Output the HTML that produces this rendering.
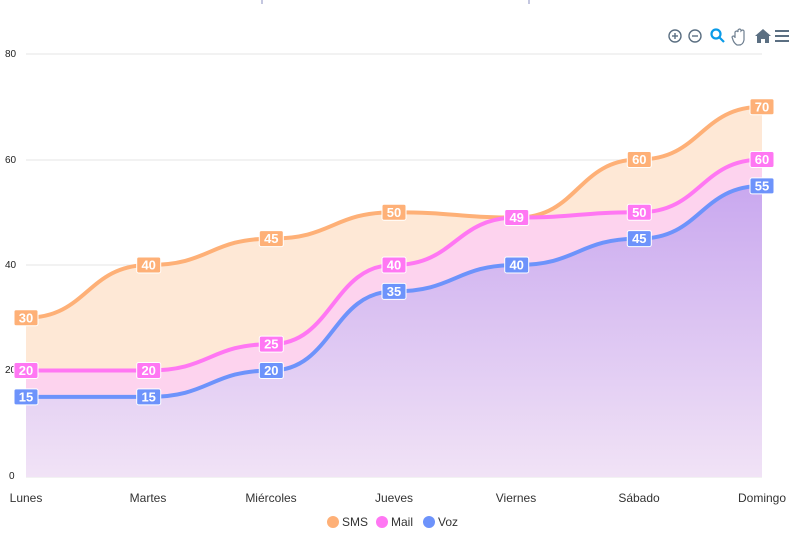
<!DOCTYPE html>
<html><head><meta charset="utf-8"><style>
body{margin:0;background:#fff;font-family:"Liberation Sans",Arial,sans-serif}
svg text{font-family:"Liberation Sans",Arial,sans-serif}
</style></head><body>
<svg id="c" width="797" height="543" xmlns="http://www.w3.org/2000/svg">
<defs>
<linearGradient id="gv" x1="0" y1="0" x2="0" y2="1"><stop offset="0" stop-color="#c9a8ef"/><stop offset="1" stop-color="#f1e3f6"/></linearGradient>
</defs>
<line x1="262" y1="0" x2="262" y2="4" stroke="#8a8fc0"/>
<line x1="529" y1="0" x2="529" y2="4" stroke="#8a8fc0"/>
<g stroke="#e6e6e6" stroke-width="1">
<line x1="26" y1="54" x2="762" y2="54"/><line x1="26" y1="160" x2="762" y2="160"/>
<line x1="26" y1="265" x2="762" y2="265"/><line x1="26" y1="371" x2="762" y2="371"/>
<line x1="26" y1="477" x2="762" y2="477"/>
</g>
<g font-size="10" fill="#222">
<text x="5" y="57">80</text><text x="5" y="163">60</text><text x="5" y="268">40</text><text x="5" y="373">20</text><text x="9" y="479">0</text>
</g>
<g id="areas"></g>
<g id="lines"></g>
<g id="labels"></g>
<g font-size="12" fill="#333" text-anchor="middle">
<text x="26" y="502">Lunes</text><text x="148" y="502">Martes</text><text x="271" y="502">Miércoles</text><text x="394" y="502">Jueves</text><text x="516" y="502">Viernes</text><text x="639" y="502">Sábado</text><text x="762" y="502">Domingo</text>
</g>
<g font-size="12" fill="#333">
<circle cx="333" cy="522" r="6" fill="#feb077"/><text x="342" y="526">SMS</text>
<circle cx="382" cy="522" r="6" fill="#ff77f3"/><text x="391" y="526">Mail</text>
<circle cx="429" cy="522" r="6" fill="#6d93fb"/><text x="438" y="526">Voz</text>
</g>
<g fill="none" stroke="#5b6f82" stroke-width="1.4">
<circle cx="675" cy="36" r="6"/><line x1="672" y1="36" x2="678" y2="36"/><line x1="675" y1="33" x2="675" y2="39"/>
<circle cx="695" cy="36" r="6"/><line x1="692" y1="36" x2="698" y2="36"/>
</g>
<g stroke="#0a9be8" stroke-width="2.2" fill="none"><circle cx="716" cy="34" r="4.5"/><line x1="719" y1="37" x2="724" y2="42"/></g>
<path d="M735 38 L735 32 Q737 30 738 32 L738 30 Q740 28 741 30 L741 31 Q743 29 744 31 L744 40 Q743 45 739 45 L737 45 Q734 43 733 40 L732 37 Q733 35 735 37" fill="#fff" stroke="#6e7f90" stroke-width="1.2"/>
<path d="M755 36 L763 29 L771 36 L769 36 L769 43 L765 43 L765 39 L761 39 L761 43 L757 43 L757 36Z" fill="#5b6f82"/>
<g stroke="#5b6f82" stroke-width="2"><line x1="775" y1="31" x2="789" y2="31"/><line x1="775" y1="36" x2="789" y2="36"/><line x1="775" y1="41" x2="789" y2="41"/></g>
</svg>
<script>
var xs=[26,148.7,271.3,394,516.7,639.3,762];
function Y(v){return 476-5.275*v;}
var S=[
{d:[30,40,45,50,49,60,70],c:"#feb077",f:"#fee8d6"},
{d:[20,20,25,40,49,50,60],c:"#ff77f3",f:"#fdd3ee"},
{d:[15,15,20,35,40,45,55],c:"#6d93fb",f:"url(#gv)"}];
var NS="http://www.w3.org/2000/svg";
function path(d){var p="M"+xs[0]+" "+Y(d[0]);for(var i=1;i<d.length;i++){var dx=(xs[i]-xs[i-1])/2;p+=" C"+(xs[i-1]+dx)+" "+Y(d[i-1])+" "+(xs[i]-dx)+" "+Y(d[i])+" "+xs[i]+" "+Y(d[i]);}return p;}
function el(t,a,par){var e=document.createElementNS(NS,t);for(var k in a)e.setAttribute(k,a[k]);document.getElementById(par).appendChild(e);return e;}
S.forEach(function(s){
 var p=path(s.d);
 el("path",{d:p+" L762 477 L26 477Z",fill:s.f},"areas");
 el("path",{d:p,fill:"none",stroke:s.c,"stroke-width":4},"lines");
 s.d.forEach(function(v,i){
  var x=xs[i],y=Y(v);
  el("rect",{x:x-12,y:y-8,width:24,height:16,rx:2,fill:s.c,stroke:"#fff","stroke-width":1},"labels");
  var t=el("text",{x:x,y:y+4.5,"text-anchor":"middle","font-size":13,"font-weight":"bold",fill:"#fff"},"labels");
  t.textContent=v;
 });
});
</script>
</body></html>
